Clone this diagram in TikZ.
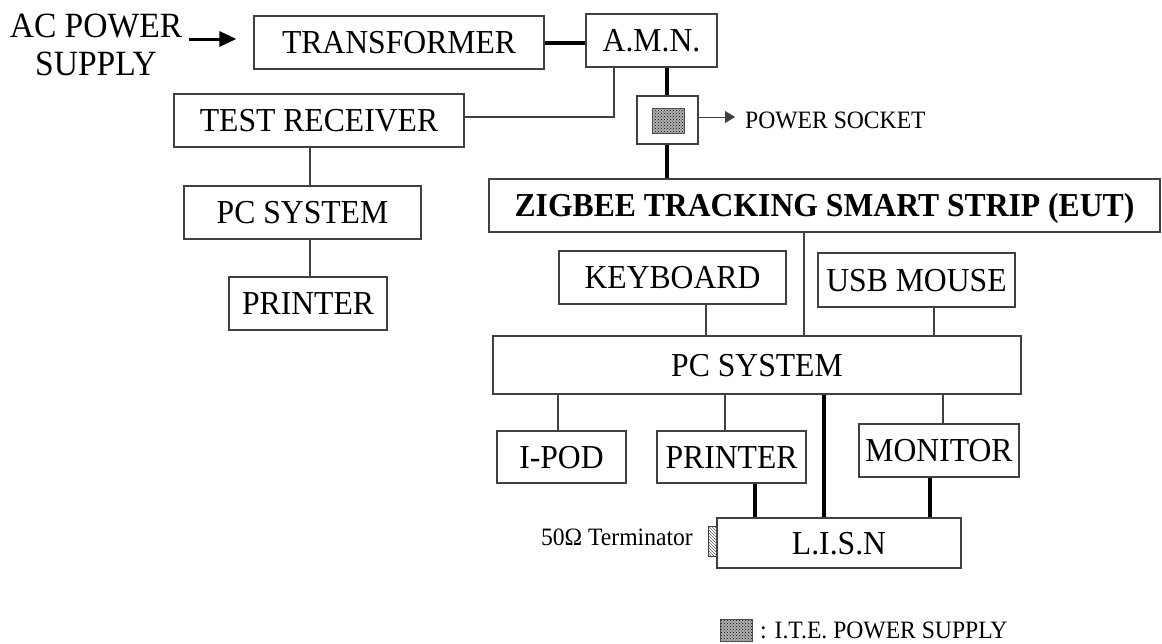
\documentclass[tikz,border=0pt]{standalone}
\usepackage{fontspec}
\setmainfont{Liberation Serif}[FakeStretch=0.945]
\usetikzlibrary{arrows.meta,patterns}
\begin{document}
\begin{tikzpicture}[x=1pt,y=-1pt,
  box/.style={draw=black!75,line width=1.2pt,inner sep=0pt,font=\fontsize{33.5}{38}\selectfont,text height=22pt,text depth=0pt},
  thinline/.style={draw=black!75,line width=1.1pt},
  thickline/.style={draw=black,line width=3.4pt},
  small/.style={font=\fontsize{25}{29}\selectfont,inner sep=2pt},
  ites/.style={draw=black!70,line width=1pt,pattern=crosshatch dots,pattern color=black,preaction={fill=gray!60}}]
\useasboundingbox (0,0) rectangle (1162,643);
% left side
\node[align=center,font=\fontsize{35.5}{37.5}\selectfont,inner sep=3pt] (ac) at (96,45) {AC POWER\\SUPPLY};
\node[box,minimum width=290pt,minimum height=53pt] (tr) at (399,42.5) {TRANSFORMER};
\node[box,minimum width=131pt,minimum height=53pt] (amn) at (651.5,40.5) {A.M.N.};
\node[box,minimum width=290pt,minimum height=53pt] (rec) at (319,120.5) {TEST RECEIVER};
\node[box,minimum width=237pt,minimum height=53pt] (pcl) at (302.5,212.5) {PC SYSTEM};
\node[box,minimum width=158pt,minimum height=53pt] (prl) at (308,303.5) {PRINTER};
% power socket
\node[draw=black!75,line width=1.2pt,minimum width=61pt,minimum height=48pt,inner sep=0pt] (sock) at (667.5,120) {};
\node[ites,minimum width=32pt,minimum height=25pt,inner sep=0pt] (socki) at (668,120.5) {};
\node[small,anchor=base west] (pstext) at (743,128) {POWER SOCKET};
% EUT side
\node[box,minimum width=671pt,minimum height=53pt,font=\bfseries\fontsize{33.5}{38}\selectfont] (zig) at (824.5,205.5) {ZIGBEE TRACKING SMART STRIP (EUT)};
\node[box,minimum width=227pt,minimum height=53pt] (kb) at (672.5,277.5) {KEYBOARD};
\node[box,minimum width=197pt,minimum height=54pt] (usb) at (916.5,280) {USB MOUSE};
\node[box,minimum width=528pt,minimum height=58pt] (pcr) at (757,365) {PC SYSTEM};
\node[box,minimum width=129pt,minimum height=52pt] (ipod) at (561.5,457) {I-POD};
\node[box,minimum width=149pt,minimum height=52pt] (prr) at (731.5,457) {PRINTER};
\node[box,minimum width=160pt,minimum height=53pt] (mon) at (939,450.5) {MONITOR};
\node[box,minimum width=244pt,minimum height=50pt] (lisn) at (839,543) {L.I.S.N};
\node[draw=black!75,line width=1pt,pattern=north west lines,pattern color=black!60,minimum width=9pt,minimum height=30pt,inner sep=0pt] (term) at (712.5,541) {};
\node[small,anchor=base east] (termlbl) at (695,545) {50Ω Terminator};
% legend
\node[ites,minimum width=32pt,minimum height=22pt,inner sep=0pt] (leg) at (736,630) {};
\node[small,anchor=base west] (legtxt) at (758,638) {: I.T.E. POWER SUPPLY};
% connectors
\draw[black,line width=3pt,-{Triangle[length=17pt,width=15pt]},shorten <=4pt,shorten >=17pt] (ac.east |- 0,39) -- (tr.west |- 0,39);
\draw[thickline] (tr.east |- 0,43) -- (amn.west |- 0,43);
\draw[thinline] (amn.south -| 614,0) |- (rec.east |- 0,117);
\draw[thinline] (rec.south -| 310,0) -- (pcl.north -| 310,0);
\draw[thinline] (pcl.south -| 310,0) -- (prl.north -| 310,0);
\draw[thickline] (amn.south -| 667,0) -- (sock.north -| 667,0);
\draw[thickline] (sock.south -| 667,0) -- (zig.north -| 667,0);
\draw[draw=black!75,line width=1pt,-{Triangle[length=10pt,width=12pt]},shorten >=8pt] (sock.east |- 0,117) -- (pstext.west |- 0,117);
\draw[thinline] (zig.south -| 804,0) -- (pcr.north -| 804,0);
\draw[thinline] (kb.south -| 706,0) -- (pcr.north -| 706,0);
\draw[thinline] (usb.south -| 934,0) -- (pcr.north -| 934,0);
\draw[thinline] (pcr.south -| 558,0) -- (ipod.north -| 558,0);
\draw[thinline] (pcr.south -| 725,0) -- (prr.north -| 725,0);
\draw[thinline] (pcr.south -| 943,0) -- (mon.north -| 943,0);
\draw[thickline] (pcr.south -| 824,0) -- (lisn.north -| 824,0);
\draw[thickline] (prr.south -| 755,0) -- (lisn.north -| 755,0);
\draw[thickline] (mon.south -| 930,0) -- (lisn.north -| 930,0);
\end{tikzpicture}
\end{document}
